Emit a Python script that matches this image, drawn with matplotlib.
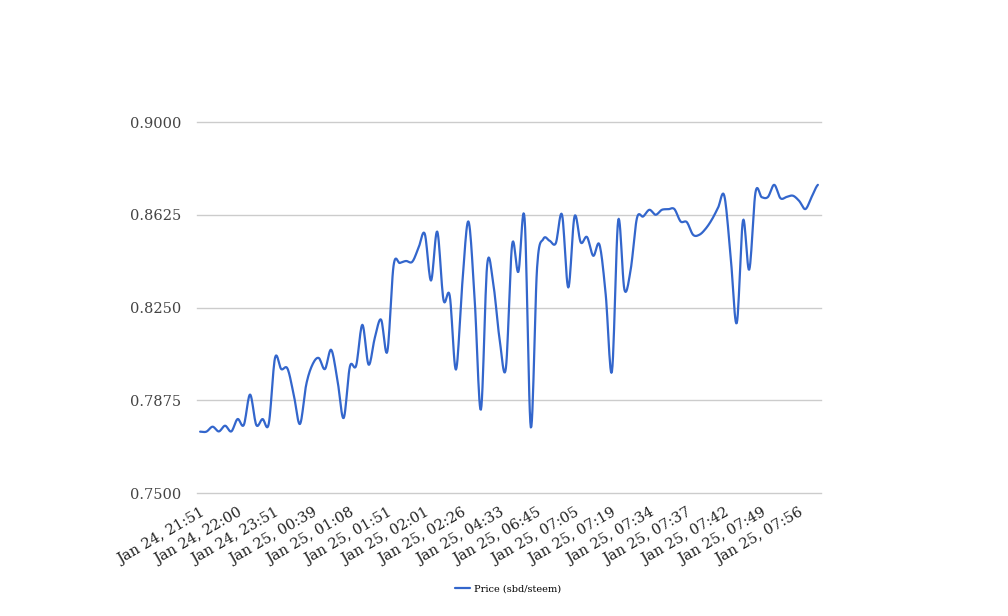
import numpy as np
import matplotlib; matplotlib.use("Agg"); import matplotlib.pyplot as plt

# price samples (sbd/steem), one per trade
price = [0.7748,0.7748,0.7768,0.7749,0.7772,0.7749,0.7799,0.7775,0.7898,0.7775,
         0.7799,0.7780,0.8046,0.8001,0.8003,0.7898,0.7779,0.7938,0.8019,0.8046,
         0.8001,0.8079,0.7958,0.7803,0.8011,0.8015,0.8180,0.8019,0.8128,0.8201,
         0.8072,0.8419,0.8430,0.8438,0.8435,0.8491,0.8548,0.8359,0.8557,0.8281,
         0.8298,0.7999,0.8342,0.8598,0.8281,0.7837,0.8422,0.8342,0.8120,0.8005,
         0.8504,0.8394,0.8609,0.7765,0.8411,0.8527,0.8520,0.8510,0.8625,0.8331,
         0.8618,0.8513,0.8535,0.8459,0.8504,0.8302,0.7992,0.8602,0.8322,0.8403,
         0.8611,0.8618,0.8645,0.8625,0.8645,0.8647,0.8648,0.8598,0.8595,0.8544,
         0.8544,0.8568,0.8605,0.8653,0.8702,0.8463,0.8187,0.8602,0.8403,0.8715,
         0.8696,0.8697,0.8746,0.8692,0.8697,0.8702,0.8681,0.8648,0.8697,0.8746]
tick_labels = ["Jan 24, 21:51","Jan 24, 22:00","Jan 24, 23:51","Jan 25, 00:39",
               "Jan 25, 01:08","Jan 25, 01:51","Jan 25, 02:01","Jan 25, 02:26",
               "Jan 25, 04:33","Jan 25, 06:45","Jan 25, 07:05","Jan 25, 07:19",
               "Jan 25, 07:34","Jan 25, 07:37","Jan 25, 07:42","Jan 25, 07:49",
               "Jan 25, 07:56"]
yticks = [0.75, 0.7875, 0.825, 0.8625, 0.9]
LABEL_STEP = 6

def smooth(y, per=12):
    # catmull-rom through the samples, like google's curveType 'function'
    y = np.asarray(y, float); n = len(y)
    p = np.concatenate([[y[0]], y, [y[-1]]])
    xs = []; ys = []
    t = np.linspace(0, 1, per, endpoint=False)
    for i in range(n - 1):
        p0, p1, p2, p3 = p[i], p[i+1], p[i+2], p[i+3]
        m1 = (p2 - p0) / 2; m2 = (p3 - p1) / 2
        h00 = 2*t**3 - 3*t**2 + 1; h10 = t**3 - 2*t**2 + t
        h01 = -2*t**3 + 3*t**2; h11 = t**3 - t**2
        xs.append(i + t); ys.append(h00*p1 + h10*m1 + h01*p2 + h11*m2)
    xs.append([n - 1]); ys.append([y[-1]])
    return np.concatenate(xs), np.concatenate(ys)

plt.rcParams['font.family'] = ['DejaVu Serif']
fig = plt.figure(figsize=(10.08, 6.16), dpi=100)
ax = fig.add_axes([197/1008, 1-493/616, 624/1008, 371/616])
for v in yticks:
    ax.axhline(v, color='#cccccc', lw=1, clip_on=False, zorder=0)
sx, sy = smooth(price)
line, = ax.plot(sx, sy, color='#3366cc', lw=1.6, label='Price (sbd/steem)',
                solid_capstyle='round', solid_joinstyle='round')
ax.set_xlim(-0.5, len(price) - 0.5)
ax.set_ylim(0.75, 0.9)
ax.set_yticks(yticks)
ax.set_yticklabels([f"{v:.4f}" for v in yticks], fontsize=10.5, color='#444444')
pos = list(range(0, len(price), LABEL_STEP))[:len(tick_labels)]
ax.set_xticks(pos)
ax.set_xticklabels(tick_labels[:len(pos)], rotation=30, ha='right',
                   rotation_mode='anchor', fontsize=10.5, color='#222222')
ax.tick_params(length=0, axis='both')
ax.tick_params(axis='y', pad=11.5)
ax.tick_params(axis='x', pad=9)
for s in ax.spines.values(): s.set_visible(False)
fig.legend(handles=[line], loc='center', bbox_to_anchor=(508/1008, 1-589/616),
           frameon=False, fontsize=7, handlelength=1.6, handletextpad=0.4)
fig.savefig("out.png", dpi=100, facecolor='white')
